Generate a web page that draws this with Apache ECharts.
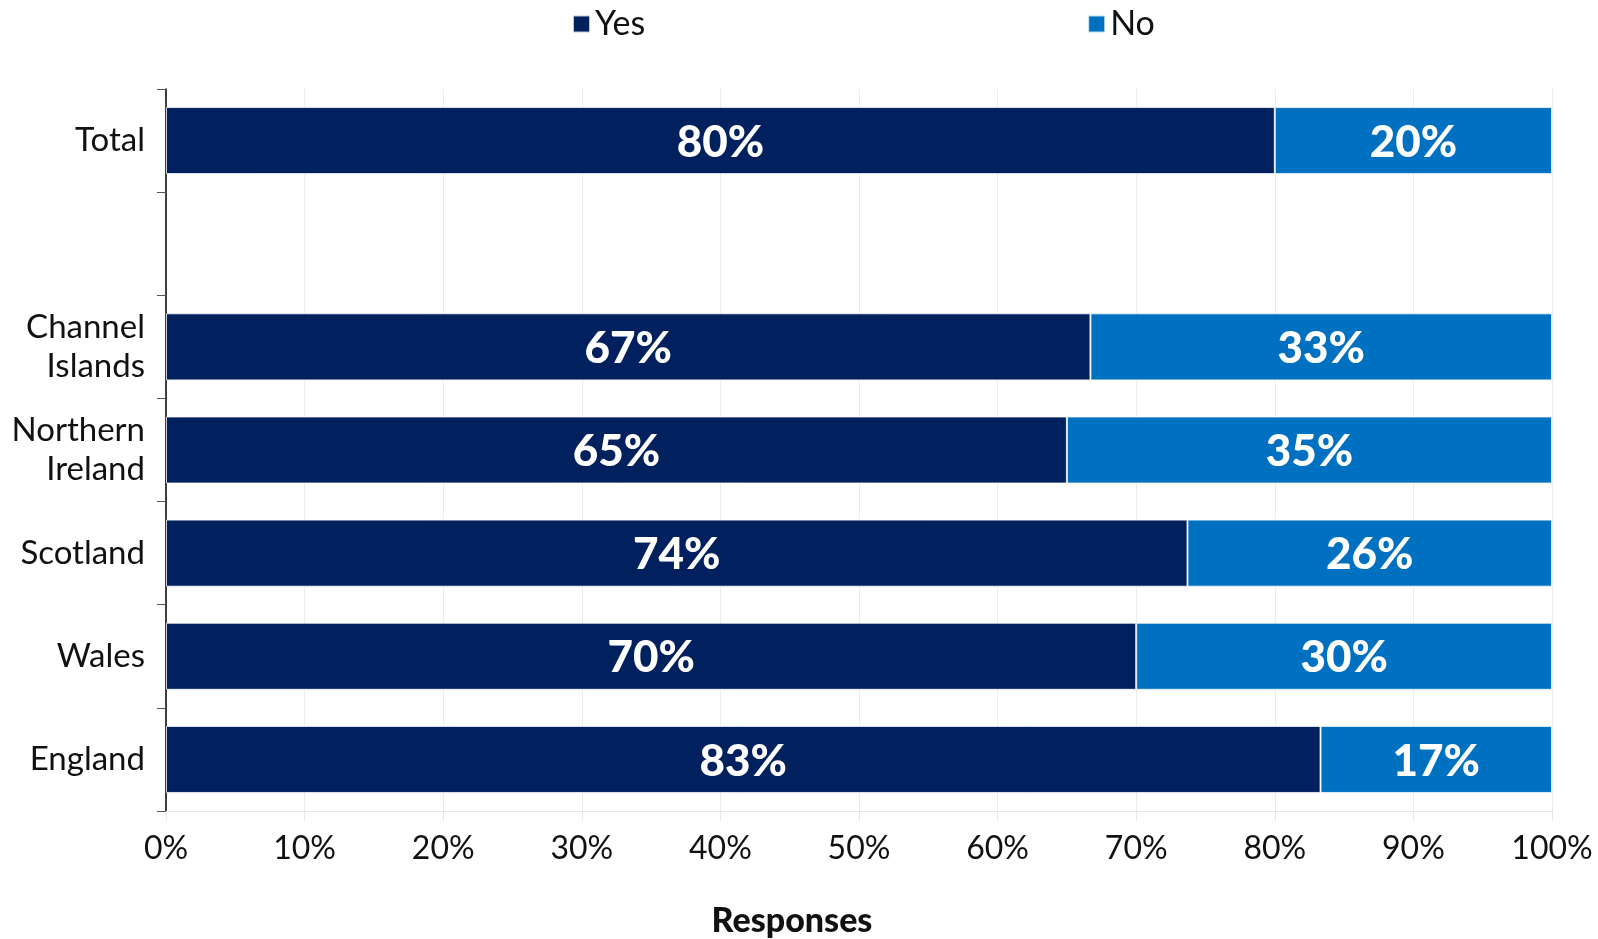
<!DOCTYPE html>
<html>
<head>
<meta charset="utf-8">
<script src="https://cdn.jsdelivr.net/npm/echarts@6/dist/echarts.min.js"></script>
<style>
html,body{margin:0;padding:0;background:#fff;}
#chart{width:1598px;height:939px;}
</style>
</head>
<body>
<div id="chart"></div>
<script>
const categories = ['Total', '', 'Channel\nIslands', 'Northern\nIreland', 'Scotland', 'Wales', 'England'];
const yesValues = [80, null, 66.7, 65, 73.7, 70, 83.3];
const noValues = [20, null, 33.3, 35, 26.3, 30, 16.7];
const xTicks = [0, 10, 20, 30, 40, 50, 60, 70, 80, 90, 100];
const seriesNames = ['Yes', 'No'];
const axisTitle = 'Responses';

const FONT = 'Lato, "Noto Sans", sans-serif';
const chart = echarts.init(document.getElementById('chart'));

function labelCfg() {
  return {
    show: true,
    position: 'inside',
    offset: [0, 2],
    color: '#fff',
    fontFamily: FONT,
    fontWeight: 900,
    fontSize: 44,
    formatter: p => p.value == null ? '' : Math.round(p.value) + '%'
  };
}

chart.setOption({
  animation: false,
  legend: {
    data: seriesNames,
    left: 567,
    top: 2,
    itemWidth: 17,
    itemHeight: 17,
    itemGap: 442,
    icon: 'rect',
    textStyle: { fontFamily: FONT, fontSize: 34, color: '#111' }
  },
  grid: { left: 166, right: 46, top: 89, bottom: 128, containLabel: false },
  xAxis: {
    type: 'value',
    min: 0,
    max: 100,
    interval: 10,
    axisLine: { show: true, lineStyle: { color: '#e6e6e6', width: 1 } },
    axisTick: { show: true, length: 10, lineStyle: { color: '#e6e6e6' } },
    splitLine: { show: true, lineStyle: { color: '#ececec', width: 1 } },
    axisLabel: {
      margin: 22,
      fontFamily: FONT,
      fontSize: 32,
      color: '#111',
      formatter: v => xTicks.includes(v) ? v + '%' : ''
    }
  },
  yAxis: {
    type: 'category',
    data: categories,
    inverse: true,
    axisLine: { show: true, lineStyle: { color: '#000', width: 1.5 } },
    axisTick: { show: true, length: 9, lineStyle: { color: '#555' } },
    axisLabel: {
      margin: 21,
      fontFamily: FONT,
      fontSize: 33,
      color: '#111',
      lineHeight: 39,
      align: 'right'
    }
  },
  series: [
    {
      name: seriesNames[0],
      type: 'bar',
      stack: 'total',
      data: yesValues,
      barCategoryGap: '35%',
      itemStyle: { color: '#01205E', borderColor: 'rgba(255,255,255,0.75)', borderWidth: 1 },
      label: labelCfg()
    },
    {
      name: seriesNames[1],
      type: 'bar',
      stack: 'total',
      data: noValues,
      barCategoryGap: '35%',
      itemStyle: { color: '#0070C0', borderColor: 'rgba(255,255,255,0.75)', borderWidth: 1 },
      label: labelCfg()
    }
  ],
  graphic: [{
    type: 'text',
    x: 792,
    y: 921,
    style: {
      text: axisTitle,
      fontFamily: FONT,
      fontWeight: 900,
      fontSize: 34,
      fill: '#111',
      textAlign: 'center',
      textVerticalAlign: 'middle'
    }
  }]
});
</script>
</body>
</html>
